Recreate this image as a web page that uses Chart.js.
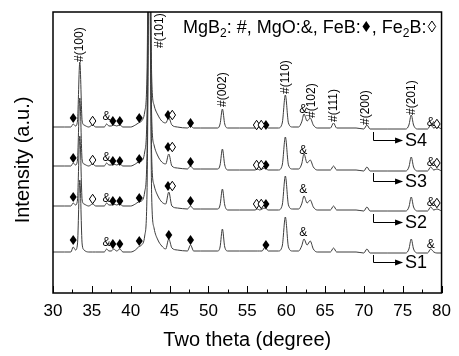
<!DOCTYPE html>
<html><head><meta charset="utf-8">
<script src="https://cdn.jsdelivr.net/npm/chart.js@4/dist/chart.umd.min.js"></script>
<style>html,body{margin:0;padding:0;background:#fff;overflow:hidden}</style>
</head><body><canvas id="c" width="459" height="356"></canvas>
<script>
// ---------- data ----------
const twoTheta = [30.0,31.5,32.3,32.6,32.9,33.15,33.45,33.75,34.0,34.6,35.1,35.5,36.3,36.6,36.9,37.2,37.5,37.8,38.2,38.6,39.0,40.0,40.6,41.0,41.4,41.8,42.1,42.4,42.7,43.0,43.5,44.0,44.5,44.9,45.3,46.0,47.3,47.7,48.1,49.0,51.2,51.5,51.8,52.1,52.5,54.0,56.0,56.3,56.6,56.9,57.3,57.7,59.0,59.5,59.9,60.3,60.8,61.6,62.0,62.3,62.7,63.1,63.5,64.0,65.7,66.1,66.5,69.0,70.0,70.4,70.8,73.0,75.4,75.8,76.1,76.4,76.9,78.2,78.6,79.0,79.4,80.0];
const intensityS4 = [10,10,10,13,11,16,75,16,12,10,12,10,10,10,13,11,11,12,11,12,10,10,12,14,16,25,65,310,60,32,22,16,14,19,12,10,9,11,9,9,9,13,28,13,9,9,9,10,9,10,11,9,9,14,42,14,10,10,15,23,16,19,12,9,9,14,9,9,8,12,8,8,8,12,22,12,8,8,12,9,10,8];
const intensityS3 = [10,10,10,13,11,16,78,16,12,10,12,10,10,10,13,11,11,12,11,12,10,10,12,14,15,24,64,309,59,31,20,14,12,22,10,8,7,10,7,7,7,11,27,11,6,6,6,7,6,7,8,6,6,11,39,11,7,7,12,22,13,16,9,6,6,10,6,6,5,9,5,5,5,9,19,9,5,5,9,6,7,5];
const intensityS2 = [10,10,10,13,11,16,80,16,12,10,12,10,10,10,13,11,11,12,11,12,10,10,12,14,15,24,64,309,59,31,20,14,12,24,10,8,7,10,7,7,7,11,27,11,6,6,6,7,6,7,8,6,6,11,40,11,7,7,12,20,13,16,9,6,6,10,6,6,5,9,5,5,5,9,19,9,5,5,9,6,7,5];
const intensityS1 = [10,10,10,15,12,18,82,18,12,10,10,10,10,10,13,11,11,13,11,13,10,10,12,15,17,26,70,310,65,34,22,16,13,23,14,12,11,17,11,11,11,15,33,15,11,11,11,11,11,11,15,11,11,16,45,15,11,11,16,23,17,21,13,10,10,14,10,10,9,13,9,9,9,13,23,13,9,9,13,10,9,9];
const sampleNames = ['S1','S2','S3','S4'];
const xTicks = [30,35,40,45,50,55,60,65,70,75,80];

// peak annotations (MgB2 reflections)
const peakLabels = ['#(100)','#(101)','#(002)','#(110)','#(102)','#(111)','#(200)','#(201)'];
const peakLabelTheta = [33.45,43.7,51.8,59.9,63.35,66.1,70.3,76.1];
const peakLabelY = [231,245,186,199,175,171,168,178];

// phase markers
const feBTheta = [32.6,37.7,38.6,41.1,44.8,47.7,57.4, 32.6,37.7,38.6,41.1,44.8,47.7,57.4, 32.6,37.7,38.6,41.1,44.8,47.7,57.4, 32.6,37.7,38.6,41.1,44.9,47.7,57.4];
const feBY     = [175,172,172,175,178,170,168, 135,132,132,134,146,131,128, 96,92,92,95,107,92,89, 53,49,49,52,58,53,48];
const fe2BTheta = [35.1,45.35,56.2,56.8,79.4, 35.1,45.35,56.2,56.8,79.4, 35.1,45.35,56.2,56.8,79.4];
const fe2BY     = [172,178,168,168,169, 133,146,128,128,130, 94,107,89,89,90];
const mgOTheta = [36.9,62.2,78.6, 36.9,62.2,78.6, 36.9,62.2,78.6, 36.9,62.2,78.6];
const mgOY     = [176,183,170, 135,142,130, 94,103,90, 50,60,48];

// sample-label arrows (S1..S4)
const arrowFromY = [38,79,120,161];
const arrowToY = [31,71,112,153];

// ---------- layout / style ----------
const FF = '"Liberation Sans", Arial, Helvetica, sans-serif';
const traceOffsets = [31,77,117,156];
const series = [intensityS1, intensityS2, intensityS3, intensityS4];
const arrowStartTheta = 71.2, arrowTipTheta = 75.05, sampleTextTheta = 75.3;

function diamond(ctx, cx, cy, w, h, filled) {
  ctx.beginPath();
  ctx.moveTo(cx, cy - h/2); ctx.lineTo(cx + w/2, cy); ctx.lineTo(cx, cy + h/2); ctx.lineTo(cx - w/2, cy); ctx.closePath();
  if (filled) { ctx.fillStyle = '#000'; ctx.fill(); }
  else { ctx.fillStyle = '#fff'; ctx.fill(); ctx.strokeStyle = '#000'; ctx.lineWidth = 1; ctx.stroke(); }
}

const overlay = {
  id: 'overlay',
  afterDraw(chart) {
    const ctx = chart.ctx, a = chart.chartArea, xs = chart.scales.x, ys = chart.scales.y;
    ctx.save();
    // frame
    ctx.strokeStyle = '#000'; ctx.lineWidth = 1.5;
    ctx.strokeRect(a.left, a.top, a.right - a.left, a.bottom - a.top);
    // inward ticks
    ctx.lineWidth = 1;
    xTicks.forEach((v, i) => {
      const px = Math.round(xs.getPixelForValue(v)) + 0.5;
      ctx.beginPath(); ctx.moveTo(px, a.bottom); ctx.lineTo(px, a.bottom - 7); ctx.stroke();
      if (i < xTicks.length - 1) {
        const pm = Math.round(xs.getPixelForValue((v + xTicks[i+1]) / 2)) + 0.5;
        ctx.beginPath(); ctx.moveTo(pm, a.bottom); ctx.lineTo(pm, a.bottom - 3.5); ctx.stroke();
      }
    });
    // clip annotations to chart area
    ctx.save();
    ctx.beginPath(); ctx.rect(a.left, a.top, a.right - a.left, a.bottom - a.top); ctx.clip();
    // peak labels
    ctx.fillStyle = '#000';
    ctx.font = '12px ' + FF;
    ctx.textAlign = 'left'; ctx.textBaseline = 'middle';
    peakLabels.forEach((t, i) => {
      ctx.save();
      ctx.translate(xs.getPixelForValue(peakLabelTheta[i]), ys.getPixelForValue(peakLabelY[i]));
      ctx.rotate(-Math.PI/2);
      ctx.fillText(t, 0, 0);
      ctx.restore();
    });
    // markers
    feBTheta.forEach((t, i) => diamond(ctx, xs.getPixelForValue(t), ys.getPixelForValue(feBY[i]), 7, 10, true));
    fe2BTheta.forEach((t, i) => diamond(ctx, xs.getPixelForValue(t), ys.getPixelForValue(fe2BY[i]), 6.5, 9.5, false));
    ctx.fillStyle = '#000';
    ctx.font = '12px ' + FF; ctx.textAlign = 'center'; ctx.textBaseline = 'middle';
    mgOTheta.forEach((t, i) => ctx.fillText('&', xs.getPixelForValue(t), ys.getPixelForValue(mgOY[i])));
    // arrows + sample names
    ctx.strokeStyle = '#000'; ctx.lineWidth = 1;
    const x0 = Math.round(xs.getPixelForValue(arrowStartTheta)) + 0.5;
    const xt = xs.getPixelForValue(arrowTipTheta);
    const xl = xs.getPixelForValue(sampleTextTheta);
    sampleNames.forEach((n, k) => {
      const y0 = ys.getPixelForValue(arrowFromY[k]);
      const y1 = Math.round(ys.getPixelForValue(arrowToY[k])) + 0.5;
      ctx.beginPath(); ctx.moveTo(x0, y0); ctx.lineTo(x0, y1); ctx.lineTo(xt - 6, y1); ctx.stroke();
      ctx.beginPath(); ctx.moveTo(xt, y1); ctx.lineTo(xt - 8, y1 - 3); ctx.lineTo(xt - 8, y1 + 3); ctx.closePath();
      ctx.fillStyle = '#000'; ctx.fill();
      ctx.font = '18px ' + FF; ctx.textAlign = 'left'; ctx.textBaseline = 'middle';
      ctx.fillText(n, xl, y1 + 1);
    });
    ctx.restore();
    // legend
    let lx = 183; const ly = 33;
    ctx.fillStyle = '#000'; ctx.textAlign = 'left'; ctx.textBaseline = 'alphabetic';
    const big = '18px ' + FF, small = '12px ' + FF;
    const parts = [['t','MgB'],['s','2'],['t',': #, MgO:&, FeB:'],['d',true],['t',', Fe'],['s','2'],['t','B:'],['d',false]];
    parts.forEach(p => {
      if (p[0] === 't') { ctx.font = big; ctx.fillStyle = '#000'; ctx.fillText(p[1], lx, ly); lx += ctx.measureText(p[1]).width; }
      else if (p[0] === 's') { ctx.font = small; ctx.fillStyle = '#000'; ctx.fillText(p[1], lx, ly + 4); lx += ctx.measureText(p[1]).width; }
      else { diamond(ctx, lx + 5.5, ly - 6.5, 7.5, 11, p[1]); lx += 11; }
    });
    // axis titles
    ctx.fillStyle = '#000'; ctx.font = '20px ' + FF;
    ctx.textAlign = 'center'; ctx.textBaseline = 'alphabetic';
    ctx.fillText('Two theta (degree)', (a.left + a.right) / 2, 346);
    ctx.save();
    ctx.translate(29, 160); ctx.rotate(-Math.PI/2);
    ctx.fillText('Intensity (a.u.)', 0, 0);
    ctx.restore();
    ctx.restore();
  }
};

new Chart(document.getElementById('c'), {
  type: 'line',
  data: {
    datasets: series.map((vals, k) => ({
      label: sampleNames[k],
      data: twoTheta.map((t, i) => ({x: t, y: vals[i] + traceOffsets[k]})),
      borderColor: '#3c3c3c', borderWidth: 1, pointRadius: 0, fill: false,
      cubicInterpolationMode: 'monotone'
    }))
  },
  options: {
    responsive: false, animation: false, devicePixelRatio: 1,
    layout: {padding: {left: 53, right: 17, top: 12, bottom: 0}},
    plugins: {legend: {display: false}, tooltip: {enabled: false}},
    scales: {
      x: {
        type: 'linear', min: 30, max: 80, position: 'bottom',
        afterBuildTicks: s => { s.ticks = xTicks.map(v => ({value: v})); },
        afterFit: s => { s.height = 63; },
        grid: {display: false, drawTicks: false},
        border: {display: false},
        ticks: {color: '#000', font: {family: FF, size: 17}, padding: 8, maxRotation: 0, autoSkip: false}
      },
      y: {display: false, min: 0, max: 281}
    }
  },
  plugins: [overlay]
});
</script></body></html>
